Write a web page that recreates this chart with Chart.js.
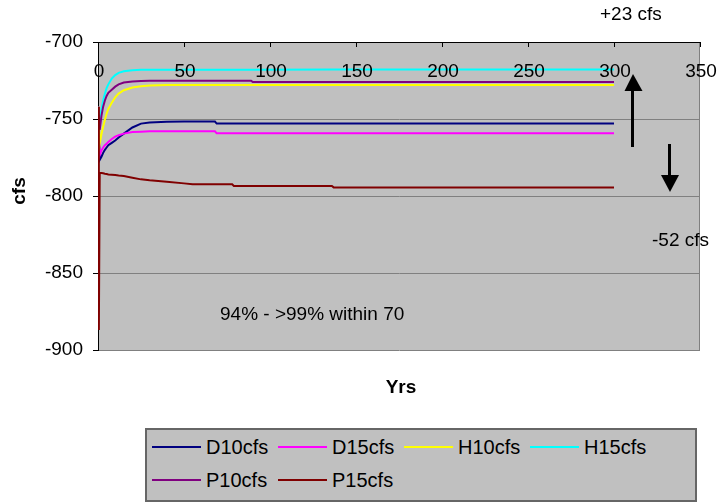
<!DOCTYPE html>
<html>
<head>
<meta charset="utf-8">
<script src="https://cdn.jsdelivr.net/npm/chart.js@4.4.1/dist/chart.umd.min.js"></script>
<style>
  body { margin: 0; background: #fff; font-family: "Liberation Sans", Arial, sans-serif; }
  #wrap { position: relative; width: 721px; height: 503px; }
  #chart { position: absolute; left: 0; top: 0; }
  .legend {
    position: absolute; left: 145px; top: 428px; width: 548px; height: 70px;
    background: #c0c0c0; border: 2px solid #666;
  }
  .legend .item { position: absolute; height: 24px; font-size: 20px; line-height: 24px; color: #000; white-space: nowrap; }
  .legend .swatch { position: absolute; left: 0; top: 11px; width: 49px; height: 2px; }
  .legend .label { position: absolute; left: 54px; top: 0; }
</style>
</head>
<body>
<div id="wrap">
  <canvas id="chart" width="721" height="503"></canvas>
  <div class="legend" id="legend"></div>
</div>
<script>
// ── Data ──────────────────────────────────────────────────────────

const years = [0, 0.5, 1, 2, 3, 4, 5, 6, 8, 10, 12, 15, 20, 25, 30, 40, 50, 55, 68, 69, 78, 79, 89, 90, 136, 137, 300];

const d10cfs = [-742, null, -776.5, -774.5, -772, -770, -768.5, -767, -765.5, -764, -762, -759.5, -755.5, -753, -752.3, -751.8, -751.7, -751.7, -751.7, -753, -753, -753, -753, -753, -753, -753, -753];
const d15cfs = [-742, null, -773.4, -770.5, -768.5, -767, -766, -765, -763, -761.5, -760.5, -759.5, -758.5, -758.2, -758, -758, -758, -758, -758, -759.3, -759.3, -759.3, -759.3, -759.3, -759.3, -759.3, -759.3];
const h10cfs = [-742, null, -766, -760, -755, -750.5, -746.5, -743.5, -739.5, -736, -733.5, -731.3, -729.5, -728.7, -728.3, -728, -728, -728, -728, -728, -728, -728, -728, -728, -728, -728, -728];
const h15cfs = [-742, null, -751, -743.7, -738, -733.6, -730, -727.5, -723.7, -721.5, -720, -719, -718.3, -718, -718, -718, -718, -718, -718, -718, -718, -718, -718, -718, -717.8, -717.8, -717.8];
const p10cfs = [-742, null, -757, -748, -742, -738, -735, -733, -731, -729, -727.5, -726.3, -725.6, -725.3, -725.1, -725.1, -725.1, -725.1, -725.1, -725.1, -725.1, -725.1, -725.1, -726, -726, -726, -726];
const p15cfs = [-742, -887, -785, -785, -785.2, -785.5, -785.7, -786, -786.2, -786.4, -786.7, -787, -788.1, -789.2, -789.8, -790.7, -791.8, -792.4, -792.4, -792.4, -792.4, -793.5, -793.5, -793.5, -793.5, -794.4, -794.4];

const seriesNames = ["D10cfs", "D15cfs", "H10cfs", "H15cfs", "P10cfs", "P15cfs"];
const seriesValues = [d10cfs, d15cfs, h10cfs, h15cfs, p10cfs, p15cfs];
const seriesColors = ["#000080", "#ff00ff", "#ffff00", "#00ffff", "#800080", "#800000"];

const xMin = 0, xMax = 350, xStep = 50;
const yMin = -900, yMax = -700, yStep = 50;

const FONT = '"Liberation Sans", Arial, sans-serif';

// ── Plugins ───────────────────────────────────────────────────────

// gray plot area + gray right border
const plotBackground = {
  id: "plotBackground",
  beforeDraw: function (chart) {
    const a = chart.chartArea;
    const ctx = chart.ctx;
    ctx.save();
    ctx.fillStyle = "#c0c0c0";
    ctx.fillRect(a.left, a.top, a.right - a.left, a.bottom - a.top);
    ctx.strokeStyle = "#808080";
    ctx.lineWidth = 1;
    ctx.beginPath();
    ctx.moveTo(a.right - 0.5, a.top);
    ctx.lineTo(a.right - 0.5, a.bottom);
    ctx.stroke();
    ctx.restore();
  },
};

// x axis sits on the top edge, labels are drawn inside the plot
const topAxisLabels = {
  id: "topAxisLabels",
  afterDraw: function (chart) {
    const xs = chart.scales.x;
    const a = chart.chartArea;
    const ctx = chart.ctx;
    ctx.save();
    ctx.strokeStyle = "#000";
    ctx.lineWidth = 1;
    ctx.beginPath();
    ctx.moveTo(a.left, a.top + 0.5);
    ctx.lineTo(a.right, a.top + 0.5);
    xs.ticks.forEach(function (t) {
      const px = Math.round(xs.getPixelForValue(t.value)) + 0.5;
      ctx.moveTo(px, a.top);
      ctx.lineTo(px, a.top + 5);
    });
    ctx.stroke();
    ctx.fillStyle = "#000";
    ctx.font = "19px " + FONT;
    ctx.textAlign = "center";
    ctx.textBaseline = "middle";
    xs.ticks.forEach(function (t) {
      ctx.fillText(String(t.value), xs.getPixelForValue(t.value) + 1, a.top + 30);
    });
    ctx.restore();
  },
};

// titles, notes and the two arrows
const annotations = {
  id: "annotations",
  afterDraw: function (chart) {
    const ctx = chart.ctx;
    ctx.save();
    ctx.fillStyle = "#000";
    ctx.textBaseline = "middle";

    ctx.font = "bold 19px " + FONT;
    ctx.textAlign = "center";
    ctx.fillText("Yrs", 401, 388);
    ctx.save();
    ctx.translate(20, 191);
    ctx.rotate(-Math.PI / 2);
    ctx.fillText("cfs", 0, 0);
    ctx.restore();

    ctx.font = "19px " + FONT;
    ctx.textAlign = "left";
    ctx.fillText("+23 cfs", 600, 15);
    ctx.fillText("-52 cfs", 652, 241);
    ctx.fillText("94% - >99% within 70", 220, 315);

    // up arrow
    ctx.fillRect(631, 89, 3, 58);
    ctx.beginPath();
    ctx.moveTo(624.5, 91);
    ctx.lineTo(642.5, 91);
    ctx.lineTo(633, 74);
    ctx.closePath();
    ctx.fill();

    // down arrow
    ctx.fillRect(668, 144, 3, 33);
    ctx.beginPath();
    ctx.moveTo(661, 175);
    ctx.lineTo(679, 175);
    ctx.lineTo(670, 192);
    ctx.closePath();
    ctx.fill();
    ctx.restore();
  },
};

// ── Chart ─────────────────────────────────────────────────────────

function renderChart() {
  const ctx = document.getElementById("chart").getContext("2d");

  const datasets = seriesNames.map(function (name, i) {
    return {
      label: name,
      data: years.map(function (y, j) { return { x: y, y: seriesValues[i][j] }; }),
      borderColor: seriesColors[i],
      backgroundColor: seriesColors[i],
      borderWidth: 2,
      pointRadius: 0,
      tension: 0,
      spanGaps: true,
      order: seriesNames.length - i,
    };
  });

  new Chart(ctx, {
    type: "line",
    data: { datasets: datasets },
    options: {
      responsive: false,
      animation: false,
      devicePixelRatio: 1,
      layout: { padding: { left: 0, top: 42, right: 21, bottom: 153 } },
      plugins: {
        legend: { display: false },
        tooltip: { enabled: false },
      },
      scales: {
        x: {
          type: "linear",
          position: "top",
          min: xMin,
          max: xMax,
          ticks: { display: false, stepSize: xStep },
          grid: { display: false },
          border: { display: false },
          afterFit: function (scale) { scale.height = 0; },
        },
        y: {
          type: "linear",
          min: yMin,
          max: yMax,
          ticks: {
            stepSize: yStep,
            color: "#000",
            padding: 10,
            font: { family: FONT, size: 19 },
          },
          grid: { color: "#808080", lineWidth: 1, tickLength: 5, tickColor: "#000" },
          border: { display: true, color: "#000", width: 1 },
          afterFit: function (scale) { scale.width = 98; },
        },
      },
    },
    plugins: [plotBackground, topAxisLabels, annotations],
  });
}

// ── Legend ────────────────────────────────────────────────────────

function renderLegend() {
  const box = document.getElementById("legend");
  seriesNames.forEach(function (name, i) {
    const col = i % 4, row = Math.floor(i / 4);
    const item = document.createElement("div");
    item.className = "item";
    item.style.left = (5 + col * 126) + "px";
    item.style.top = (5 + row * 33) + "px";
    item.innerHTML = '<div class="swatch" style="background:' + seriesColors[i] + '"></div>' +
      '<div class="label">' + name + '</div>';
    box.appendChild(item);
  });
}

renderChart();
renderLegend();
</script>
</body>
</html>
